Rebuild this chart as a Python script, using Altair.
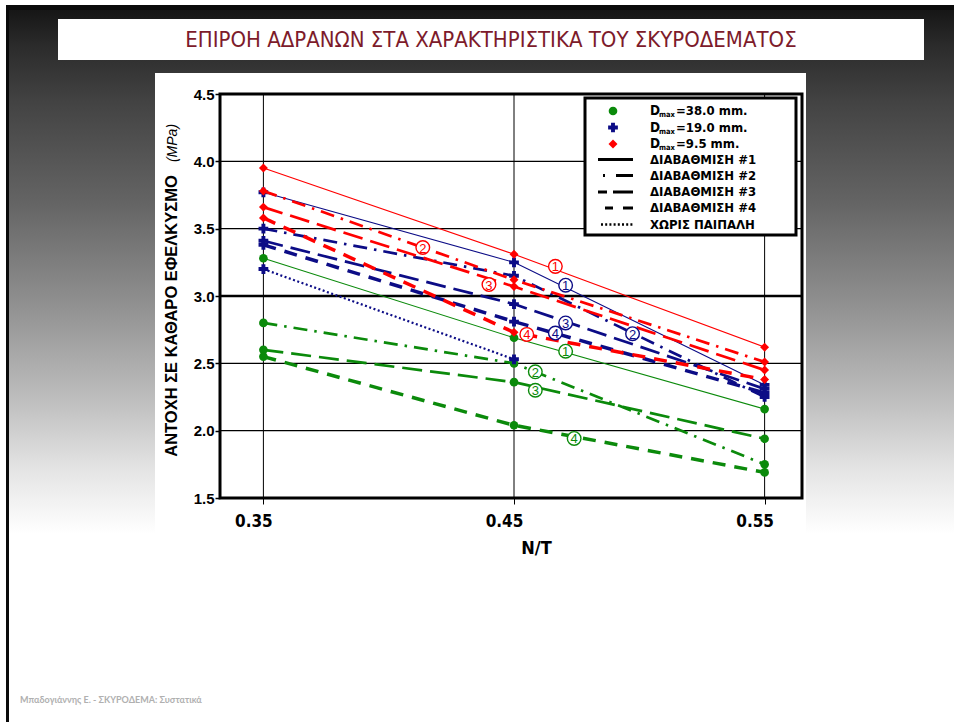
import altair as alt
import pandas as pd

# ---------------------------------------------------------------- data
# water/cement ratio (N/T) on the horizontal axis
nt = [0.35, 0.45, 0.55]

# splitting tensile strength (MPa), D_max = 38.0 mm, gradings #1..#4
green_g1 = [3.28, 2.69, 2.16]
green_g2 = [2.80, 2.50, 1.75]
green_g3 = [2.60, 2.36, 1.94]
green_g4 = [2.55, 2.04, 1.69]

# D_max = 19.0 mm
blue_g1 = [3.77, 3.25, 2.34]
blue_g2 = [3.50, 3.15, 2.25]
blue_g3 = [3.41, 2.94, 2.31]
blue_g4 = [3.38, 2.81, 2.28]
blue_nofiller = [3.20, 2.53]          # without filler, N/T 0.35 and 0.45 only

# D_max = 9.5 mm
red_g1 = [3.95, 3.31, 2.62]
red_g2 = [3.78, 3.12, 2.51]
red_g3 = [3.66, 3.07, 2.45]
red_g4 = [3.58, 2.73, 2.38]

# circled grading numbers written next to the curves (N/T, MPa)
note_num = ["1", "2", "3", "4"]
red_note_x = [0.4665, 0.4136, 0.4400, 0.4551]
red_note_y = [3.22, 3.36, 3.085, 2.715]
blue_note_x = [0.4706, 0.4973, 0.4706, 0.4665]
blue_note_y = [3.08, 2.72, 2.80, 2.725]
green_note_x = [0.4706, 0.4585, 0.4585, 0.4740]
green_note_y = [2.59, 2.437, 2.30, 1.942]

y_ticks = [1.5, 2.0, 2.5, 3.0, 3.5, 4.0, 4.5]
grid_y = [2.0, 2.5, 3.0, 3.5, 4.0]

dmax_labels = ["38.0", "19.0", "9.5"]
grading_labels = ["ΔΙΑΒΑΘΜΙΣΗ #1", "ΔΙΑΒΑΘΜΙΣΗ #2", "ΔΙΑΒΑΘΜΙΣΗ #3",
                  "ΔΙΑΒΑΘΜΙΣΗ #4", "ΧΩΡΙΣ ΠΑΙΠΑΛΗ"]

slide_title = "ΕΠΙΡΟΗ ΑΔΡΑΝΩΝ ΣΤΑ ΧΑΡΑΚΤΗΡΙΣΤΙΚΑ ΤΟΥ ΣΚΥΡΟΔΕΜΑΤΟΣ"
y_title = "ΑΝΤΟΧΗ  ΣΕ ΚΑΘΑΡΟ ΕΦΕΛΚΥΣΜΟ"
y_unit = "(MPa)"
x_title = "N/T"
footer = "Μπαδογιάννης Ε. -  ΣΚΥΡΟΔΕΜΑ: Συστατικά"

# ---------------------------------------------------------------- styling
GREEN, BLUE, RED = "#0b8a0b", "#0c0c86", "#ff0000"
NARROW = "Liberation Sans Narrow, DejaVu Sans Condensed, Arial Narrow, sans-serif"
SANS = "Liberation Sans, Arial, sans-serif"

W, H = 582, 404          # plot area
OX, OY = 220, 94         # plot origin on the page


def px(x):
    return x - OX


def py(y):
    return y - OY


one = alt.Data(values=[{"k": 0}])

xscale = alt.Scale(domain=[0.33268, 0.56492], nice=False, zero=False)
yscale = alt.Scale(domain=[1.5, 4.5], nice=False, zero=False)

xaxis = alt.Axis(values=nt, format=".2f", grid=False, domain=False,
                 ticks=True, tickSize=6, tickColor="black", tickWidth=1,
                 labelFont=NARROW, labelFontWeight="bold", labelFontSize=17,
                 labelColor="black", labelPadding=9, labelOffset=-10,
                 title=x_title, titleFont=NARROW, titleFontWeight="bold",
                 titleFontSize=18, titleColor="black", titleX=316, titleY=50,
                 titleAlign="center", titleBaseline="middle", zindex=1)
yaxis = alt.Axis(values=y_ticks, format=".1f", grid=False, domain=False,
                 ticks=True, tickSize=5, tickColor="black", tickWidth=1.5,
                 labelFont=SANS, labelFontWeight="bold", labelFontSize=15,
                 labelColor="black", labelPadding=1, title="", zindex=1)


def X(field):
    return alt.X(field, type="quantitative", scale=xscale, axis=xaxis)


def Y(field):
    return alt.Y(field, type="quantitative", scale=yscale, axis=yaxis)


def box(x1, y1, x2, y2, **kw):
    return alt.Chart(one).mark_rect(**kw).encode(
        x=alt.value(px(x1)), x2=alt.value(px(x2)),
        y=alt.value(py(y1)), y2=alt.value(py(y2)))


def hline(x1, x2, y, **kw):
    return alt.Chart(one).mark_rule(**kw).encode(
        x=alt.value(px(x1)), x2=alt.value(px(x2)),
        y=alt.value(py(y)), y2=alt.value(py(y)))


def text(x, y, s, **kw):
    return alt.Chart(one).mark_text(**kw).encode(
        x=alt.value(px(x)), y=alt.value(py(y)), text=alt.value(s))


layers = []

# ---------------------------------------------------------------- slide
bg = alt.LinearGradient(
    gradient="linear", x1=0, x2=0, y1=0, y2=1,
    stops=[alt.GradientStop(color="#161616", offset=0.0),
           alt.GradientStop(color="#2b2b2b", offset=0.05),
           alt.GradientStop(color="#434343", offset=0.13),
           alt.GradientStop(color="#646464", offset=0.27),
           alt.GradientStop(color="#8f8f8f", offset=0.41),
           alt.GradientStop(color="#bdbdbd", offset=0.545),
           alt.GradientStop(color="#e4e4e4", offset=0.645),
           alt.GradientStop(color="#ffffff", offset=0.735),
           alt.GradientStop(color="#ffffff", offset=1.0)])
layers.append(box(0, 0, 954, 722, color="white"))
layers.append(box(6, 10, 954, 722, color=bg))
layers.append(box(6, 5, 954, 10, color="#0a0a0a"))
layers.append(box(6, 5, 9, 722, color="#0a0a0a"))

# title banner
layers.append(box(58, 19, 924, 60, color="white"))
layers.append(text(491, 40, slide_title, font=NARROW, fontSize=22,
                   color="#7d1b2b", align="center", baseline="middle"))

# white sheet behind the graph
layers.append(box(155, 73, 806, 535, color="white"))

# footer
layers.append(text(20, 700, footer, font="Lato, sans-serif", fontSize=9,
                   fontWeight="bold", color="#b0b0b0", align="left",
                   baseline="middle"))

# ---------------------------------------------------------------- grid
gy = pd.DataFrame({"v": grid_y})
layers.append(alt.Chart(gy).mark_rule(color="black", strokeWidth=1.3).encode(
    y=Y("v"), x=alt.value(0), x2=alt.value(W)))
layers.append(alt.Chart(gy).transform_filter("datum.v == 3").mark_rule(
    color="black", strokeWidth=2.6).encode(y=Y("v"), x=alt.value(0), x2=alt.value(W)))
gx = pd.DataFrame({"n": nt})
layers.append(alt.Chart(gx).mark_rule(color="black", strokeWidth=1).encode(
    x=X("n"), y=alt.value(0), y2=alt.value(H)))

# ---------------------------------------------------------------- curves
DASH = {"1": None, "2": [14, 7, 2.5, 7], "3": [20, 8], "4": [13, 9], "0": [2, 2.5]}
WIDTH = {"1": 1.1, "2": 2.7, "3": 2.7, "4": 3.5, "0": 2.2}

groups = [
    (GREEN, "circle", 75, [("4", green_g4), ("3", green_g3), ("2", green_g2), ("1", green_g1)]),
    (BLUE, "cross", 95, [("0", blue_nofiller), ("4", blue_g4), ("3", blue_g3), ("2", blue_g2), ("1", blue_g1)]),
    (RED, "diamond", 80, [("4", red_g4), ("3", red_g3), ("2", red_g2), ("1", red_g1)]),
]

for color, shape, size, curves in groups:
    pts = []
    for g, vals in curves:
        df = pd.DataFrame({"n": nt[:len(vals)], "v": vals})
        kw = dict(color=color, strokeWidth=WIDTH[g])
        if DASH[g] is not None:
            kw["strokeDash"] = DASH[g]
        layers.append(alt.Chart(df).mark_line(**kw).encode(x=X("n"), y=Y("v"), order="n:Q"))
        pts.append(df)
    pdf = pd.concat(pts, ignore_index=True)
    layers.append(alt.Chart(pdf).mark_point(shape=shape, filled=True, size=size,
                                            color=color, opacity=1).encode(x=X("n"), y=Y("v")))

# circled grading numbers
for color, xs, ys in [(GREEN, green_note_x, green_note_y),
                      (BLUE, blue_note_x, blue_note_y),
                      (RED, red_note_x, red_note_y)]:
    ndf = pd.DataFrame({"n": xs, "v": ys, "t": note_num})
    layers.append(alt.Chart(ndf).mark_point(shape="circle", size=185, fill="white",
                                            fillOpacity=1, stroke=color, strokeWidth=1.4,
                                            opacity=1).encode(x=X("n"), y=Y("v")))
    layers.append(alt.Chart(ndf).mark_text(font=SANS, fontSize=13, color=color,
                                           align="center", baseline="middle", dy=1).encode(
        x=X("n"), y=Y("v"), text="t:N"))

# plot frame
layers.append(alt.Chart(one).mark_rect(fillOpacity=0, stroke="black", strokeWidth=3).encode(
    x=alt.value(0), x2=alt.value(W), y=alt.value(0), y2=alt.value(H)))

# y axis title
layers.append(text(172, 316, y_title, font=SANS, fontSize=16.5, fontWeight="bold",
                   color="black", angle=270, align="center", baseline="middle"))
layers.append(text(173, 143, y_unit, font=SANS, fontSize=14, fontStyle="italic",
                   color="black", angle=270, align="center", baseline="middle"))

# ---------------------------------------------------------------- legend
layers.append(alt.Chart(one).mark_rect(fill="white", stroke="black", strokeWidth=3).encode(
    x=alt.value(px(585)), x2=alt.value(px(796)), y=alt.value(py(98)), y2=alt.value(py(235))))

row_y = [111, 127.5, 144, 159.5, 175.5, 192, 208, 224.5]
for (color, shape, size, _), lab, yy in zip(groups, dmax_labels, row_y[:3]):
    layers.append(alt.Chart(one).mark_point(shape=shape, filled=True, size=size,
                                            color=color, opacity=1).encode(
        x=alt.value(px(613)), y=alt.value(py(yy))))
    layers.append(text(650, yy, "D", font=NARROW, fontSize=13.5, fontWeight="bold",
                       color="black", align="left", baseline="middle"))
    layers.append(text(659, yy + 4, "max", font=NARROW, fontSize=7.5, fontWeight="bold",
                       color="black", align="left", baseline="middle"))
    layers.append(text(676, yy, "=" + lab + " mm.", font=NARROW, fontSize=13,
                       fontWeight="bold", color="black", align="left", baseline="middle"))

legend_dash = [None, [2, 11, 20, 6], [9, 6, 20, 6], [8, 10, 10, 6], [2, 2.2]]
legend_x1 = [598, 603, 598, 605, 601]
legend_w = [3, 3, 3, 3, 2.5]
for lab, dash, x1, lw, yy in zip(grading_labels, legend_dash, legend_x1, legend_w, row_y[3:]):
    kw = dict(color="black", strokeWidth=lw)
    if dash is not None:
        kw["strokeDash"] = dash
    layers.append(hline(x1, 633, yy, **kw))
    layers.append(text(650, yy, lab, font=NARROW, fontSize=13, fontWeight="bold",
                       color="black", align="left", baseline="middle"))

chart = alt.layer(*layers).properties(
    width=W, height=H,
    padding={"left": OX, "top": OY, "right": 954 - OX - W, "bottom": 722 - OY - H},
    autosize=alt.AutoSizeParams(type="none"),
    background="white",
).configure_view(stroke=None)

chart.save("out.html", embed_options={"renderer": "svg", "actions": False})
